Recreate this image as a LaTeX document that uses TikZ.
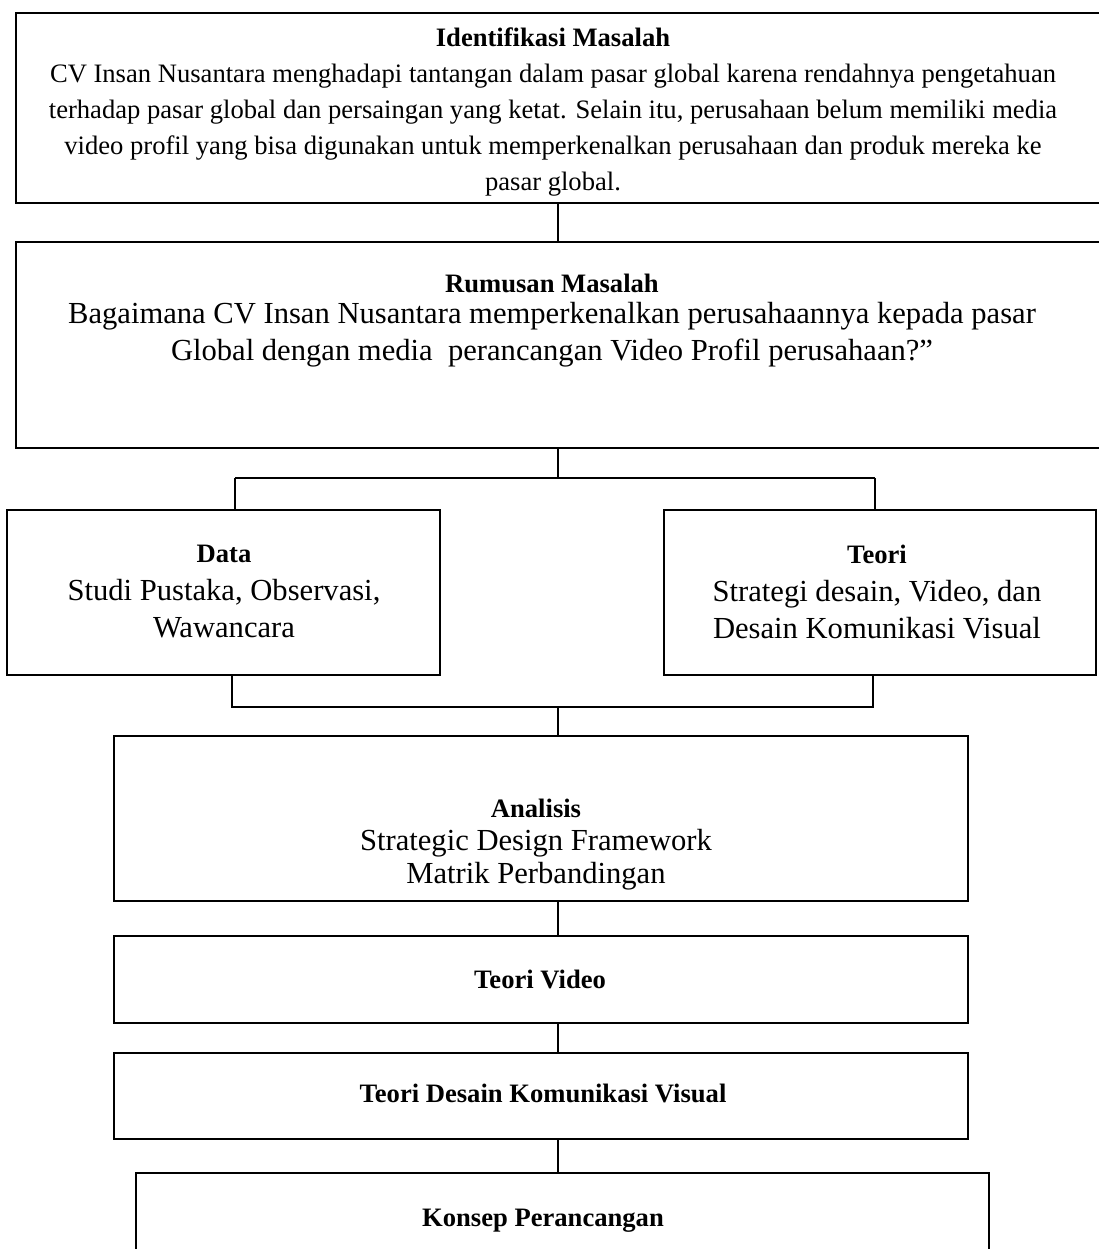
\documentclass[tikz,border=0pt]{standalone}
\usepackage{fontspec}
\setmainfont{Liberation Serif}
\usetikzlibrary{positioning, calc}
\tikzstyle{box} = [rectangle, draw, line width=2.4pt, inner sep=0pt]
\tikzstyle{line} = [draw, line width=1.8pt]
\tikzstyle{txt} = [align=center, inner sep=0pt, font=\fontsize{30.6}{37}\selectfont]
\tikzstyle{stxt} = [align=center, inner sep=0pt, font=\fontsize{26.6}{36}\selectfont]
\tikzstyle{head} = [align=center, inner sep=0pt, font=\bfseries\fontsize{26.6}{32}\selectfont]
\newcommand{\hd}[1]{{\bfseries\fontsize{26.6}{32}\selectfont #1}}

\begin{document}
\begin{tikzpicture}[x=1pt, y=-1pt]
    \useasboundingbox (0,0) rectangle (1098,1249);

    \node [box, minimum width=1088pt, minimum height=190pt] (ident) at (560,108) {};
    \node [box, minimum width=1088pt, minimum height=206pt] (rumusan) at (560,345) {};
    \node [box, minimum width=433pt, minimum height=165pt] (data) at (223.5,592.5) {};
    \node [box, minimum width=432pt, minimum height=165pt] (teori) at (880,592.5) {};
    \node [box, minimum width=854pt, minimum height=165pt] (analisis) at (541,818.5) {};
    \node [box, minimum width=854pt, minimum height=87pt] (video) at (541,979.5) {};
    \node [box, minimum width=854pt, minimum height=86pt] (dkv) at (541,1096) {};
    \node [box, minimum width=853pt, minimum height=160pt, anchor=north] (konsep) at (562.5,1172) {};

    \node [stxt] (identText) at (553,112.5) {\hd{Identifikasi Masalah}\\
      CV Insan Nusantara menghadapi tantangan dalam pasar global karena rendahnya pengetahuan\\
      terhadap pasar global dan persaingan yang ketat. Selain itu, perusahaan belum memiliki media\\
      video profil yang bisa digunakan untuk memperkenalkan perusahaan dan produk mereka ke\\
      pasar global.};
    \node [txt] (rumusanText) at (552,321) {\hd{Rumusan Masalah}\\[-6pt]
      Bagaimana CV Insan Nusantara memperkenalkan perusahaannya kepada pasar\\
      Global dengan media\ \ perancangan Video Profil perusahaan?”};
    \node [txt] (dataText) at (224,591.5) {\hd{Data}\\[1pt] Studi Pustaka, Observasi,\\ Wawancara};
    \node [txt] (teoriText) at (877,591.5) {\hd{Teori}\\[1pt] Strategi desain, Video, dan\\ Desain Komunikasi Visual};
    \node [txt, font=\fontsize{30.6}{33}\selectfont] (analisisText) at (536,845)
      {\hd{Analisis}\\ Strategic Design Framework\\ Matrik Perbandingan};
    \node [head] (videoText) at (540,979) {Teori Video};
    \node [head] (dkvText) at (543,1093) {Teori Desain Komunikasi Visual};
    \node [head] (konsepText) at (543,1221) {Konsep Perancangan};

    \coordinate (spine) at (558,0);
    \coordinate (busTop) at (558,478);
    \coordinate (busTopL) at (235,478);
    \coordinate (busTopR) at (875,478);
    \coordinate (busBot) at (558,707);
    \coordinate (busBotL) at (232,707);
    \coordinate (busBotR) at (873,707);

    \path [line] (ident.south -| spine) -- (rumusan.north -| spine);
    \path [line] (rumusan.south -| spine) -- (busTop);
    \path [line] (busTopL) -- (busTopR);
    \path [line] (busTopL) -- (busTopL |- data.north);
    \path [line] (busTopR) -- (busTopR |- teori.north);
    \path [line] (data.south -| busBotL) -- (busBotL) -- (busBotR) -- (teori.south -| busBotR);
    \path [line] (busBot) -- (analisis.north -| spine);
    \path [line] (analisis.south -| spine) -- (video.north -| spine);
    \path [line] (video.south -| spine) -- (dkv.north -| spine);
    \path [line] (dkv.south -| spine) -- (konsep.north -| spine);
\end{tikzpicture}
\end{document}
